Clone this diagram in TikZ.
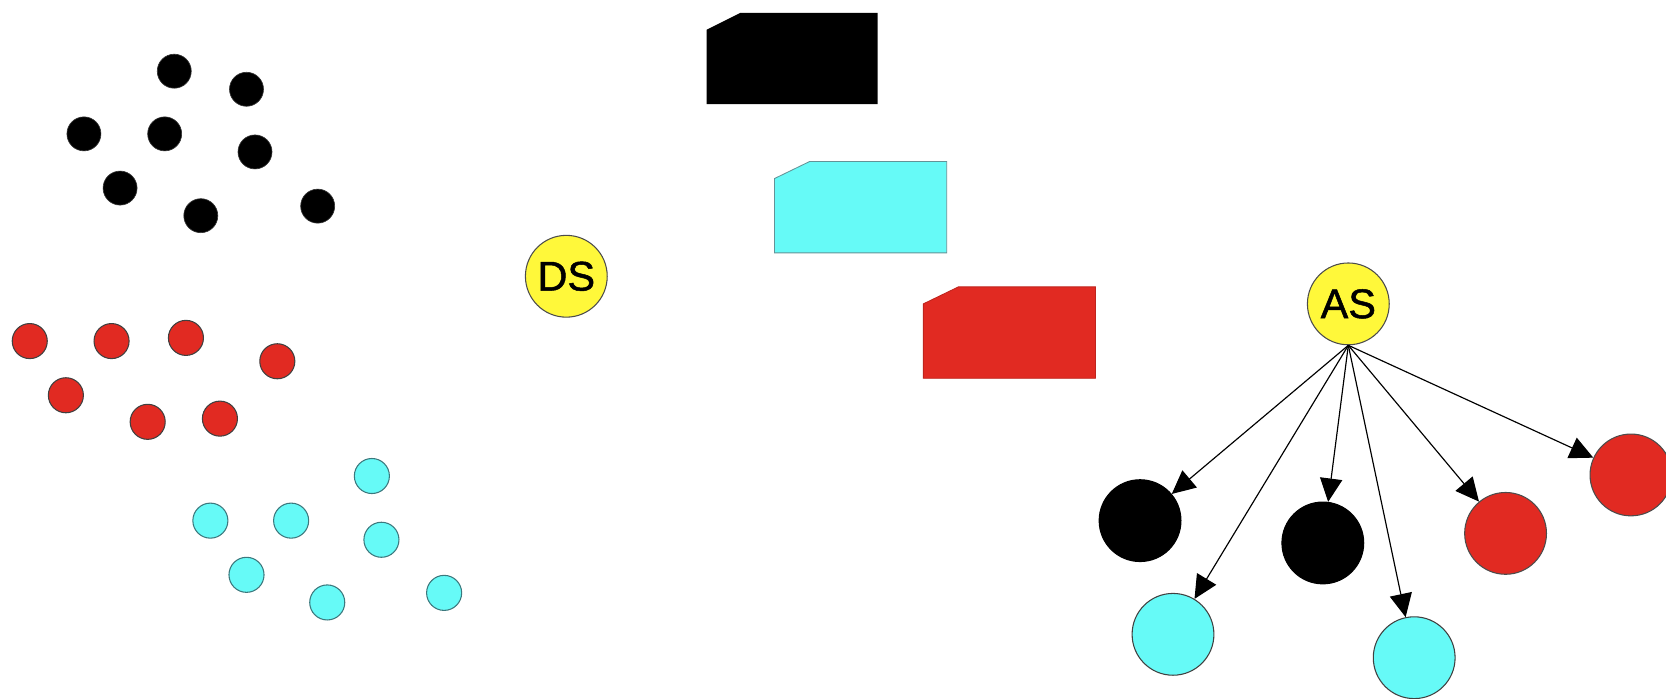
\documentclass[tikz,border=0pt]{standalone}
\usepackage{fontspec}
\setmainfont{Liberation Sans}
\newfontfamily\labfont[FakeBold=1.2]{Liberation Sans}
\usetikzlibrary{arrows.meta}
\definecolor{myred}{RGB}{225,42,34}
\definecolor{mycyan}{RGB}{102,250,247}
\definecolor{myyellow}{RGB}{255,248,58}
\definecolor{cyanedge}{RGB}{60,120,125}
\begin{document}
\begin{tikzpicture}[x=1pt,y=-1pt,
  bdot/.style={circle,fill=black,draw=black!80,line width=0.6pt,minimum size=32pt,inner sep=0pt},
  rdot/.style={circle,fill=myred,draw=black!75,line width=1pt,minimum size=33pt,inner sep=0pt},
  cdot/.style={circle,fill=mycyan,draw=cyanedge,line width=1pt,minimum size=33pt,inner sep=0pt},
  bbig/.style={circle,fill=black,draw=black,line width=1pt,minimum size=77pt,inner sep=0pt},
  rbig/.style={circle,fill=myred,draw=black!70,line width=1pt,minimum size=77pt,inner sep=0pt},
  cbig/.style={circle,fill=mycyan,draw=black!75,line width=1pt,minimum size=77pt,inner sep=0pt},
  server/.style={circle,fill=myyellow,draw=black!70,line width=1pt,minimum size=77pt,inner sep=0pt,
    font=\labfont\fontsize{39}{42}\selectfont},
  link/.style={line width=1.1pt,-{Triangle[length=22pt,width=21pt]}}
]
\useasboundingbox (0,0) rectangle (1568,657);

% black dots
\node[bdot] (b1) at (164,67) {};
\node[bdot] (b2) at (232,84) {};
\node[bdot] (b3) at (79,126) {};
\node[bdot] (b4) at (155,126) {};
\node[bdot] (b5) at (240,143) {};
\node[bdot] (b6) at (113,177) {};
\node[bdot] (b7) at (189,203) {};
\node[bdot] (b8) at (299,194) {};

% red dots
\node[rdot] (r1) at (28,321) {};
\node[rdot] (r2) at (105,321) {};
\node[rdot] (r3) at (175,318) {};
\node[rdot] (r4) at (261,340) {};
\node[rdot] (r5) at (62,372) {};
\node[rdot] (r6) at (139,397) {};
\node[rdot] (r7) at (207,394) {};

% cyan dots
\node[cdot] (c1) at (350,448) {};
\node[cdot] (c2) at (198,490) {};
\node[cdot] (c3) at (274,490) {};
\node[cdot] (c4) at (359,508) {};
\node[cdot] (c5) at (232,541) {};
\node[cdot] (c6) at (308,567) {};
\node[cdot] (c7) at (418,558) {};

% DS
\node[server] (DS) at (533,260) {DS};

% chamfered boxes
\fill[black] (665,98) -- (826,98) -- (826,12) -- (697,12) -- (665,28) -- cycle;
\filldraw[fill=mycyan,draw=cyanedge!80,line width=0.8pt] (729,238) -- (891,238) -- (891,152) -- (762,152) -- (729,168) -- cycle;
\filldraw[fill=myred,draw=myred!85!black,line width=0.8pt] (869,356) -- (1031,356) -- (1031,270) -- (902,270) -- (869,286) -- cycle;

% AS and children
\node[server] (AS) at (1269,286) {AS};
\node[bbig] (k1) at (1073,490) {};
\node[bbig] (k2) at (1245,511) {};
\node[rbig] (k3) at (1417,502) {};
\node[rbig] (k4) at (1535,447) {};
\node[cbig] (k5) at (1104,597) {};
\node[cbig] (k6) at (1331,619) {};

\draw[link] (AS.south) -- (k1);
\draw[link] (AS.south) -- (k2);
\draw[link] (AS.south) -- (k3);
\draw[link] (AS.south) -- (k4);
\draw[link] (AS.south) -- (k5);
\draw[link] (AS.south) -- (k6);
\end{tikzpicture}
\end{document}
